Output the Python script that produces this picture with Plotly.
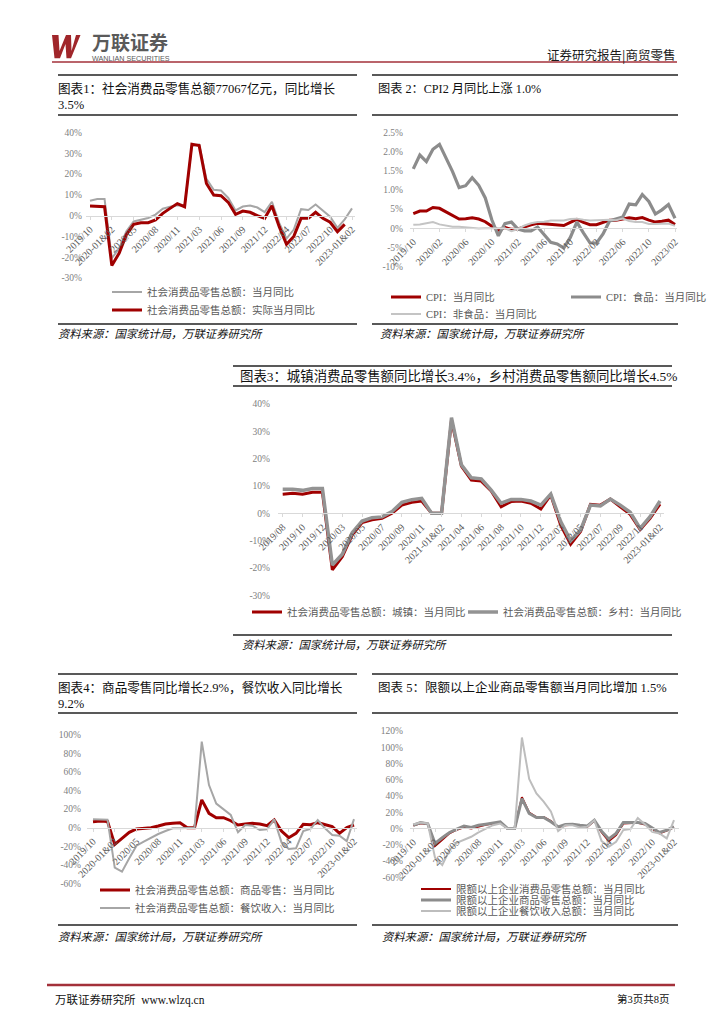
import plotly.graph_objects as go

FIG_W, FIG_H = 724, 1024

# ---------------- categories / ticks ----------------
CAT_A = ["2019/10", "2019/11", "2019/12", "2020-01&02", "2020/03", "2020/04", "2020/05", "2020/06",
         "2020/07", "2020/08", "2020/09", "2020/10", "2020/11", "2020/12", "2021-01&02", "2021/03",
         "2021/04", "2021/05", "2021/06", "2021/07", "2021/08", "2021/09", "2021/10", "2021/11",
         "2021/12", "2022-01&02", "2022/03", "2022/04", "2022/05", "2022/06", "2022/07", "2022/08",
         "2022/09", "2022/10", "2022/11", "2022/12", "2023-01&02"]
TICKS_A = ["2019/10", "2020-01&02", "2020/05", "2020/08", "2020/11", "2021/03", "2021/06",
           "2021/09", "2021/12", "2022/04", "2022/07", "2022/10", "2023-01&02"]

CAT_B = ["2019/10", "2019/11", "2019/12", "2020/01", "2020/02", "2020/03", "2020/04", "2020/05",
         "2020/06", "2020/07", "2020/08", "2020/09", "2020/10", "2020/11", "2020/12", "2021/01",
         "2021/02", "2021/03", "2021/04", "2021/05", "2021/06", "2021/07", "2021/08", "2021/09",
         "2021/10", "2021/11", "2021/12", "2022/01", "2022/02", "2022/03", "2022/04", "2022/05",
         "2022/06", "2022/07", "2022/08", "2022/09", "2022/10", "2022/11", "2022/12", "2023/01",
         "2023/02"]
TICKS_B = ["2019/10", "2020/02", "2020/06", "2020/10", "2021/02", "2021/06", "2021/10",
           "2022/02", "2022/06", "2022/10", "2023/02"]

CAT_C = ["2019/08", "2019/09", "2019/10", "2019/11", "2019/12", "2020-01&02", "2020/03", "2020/04",
         "2020/05", "2020/06", "2020/07", "2020/08", "2020/09", "2020/10", "2020/11", "2020/12",
         "2021-01&02", "2021/03", "2021/04", "2021/05", "2021/06", "2021/07", "2021/08", "2021/09",
         "2021/10", "2021/11", "2021/12", "2022-01&02", "2022/03", "2022/04", "2022/05", "2022/06",
         "2022/07", "2022/08", "2022/09", "2022/10", "2022/11", "2022/12", "2023-01&02"]
TICKS_C = ["2019/08", "2019/10", "2019/12", "2020/03", "2020/05", "2020/07", "2020/09", "2020/11",
           "2021-01&02", "2021/04", "2021/06", "2021/08", "2021/10", "2021/12", "2022/03",
           "2022/05", "2022/07", "2022/09", "2022/11", "2023-01&02"]

# ---------------- series values (%) ----------------
RS_NOMINAL = [7.2, 8.0, 8.0, -20.5, -15.8, -7.5, -2.8, -1.8, -1.1, 0.5, 3.3, 4.3, 5.0, 4.6, 33.8,
              34.2, 17.7, 12.4, 12.1, 8.5, 2.5, 4.4, 4.9, 3.9, 1.7, 6.7, -3.5, -11.1, -6.7, 3.1,
              2.7, 5.4, 2.5, -0.5, -5.9, -1.8, 3.5]
RS_REAL = [4.6, 4.6, 4.3, -24.0, -18.1, -9.1, -4.2, -3.4, -3.4, -2.1, 1.1, 3.5, 5.8, 4.3, 34.3,
           33.7, 15.5, 9.9, 9.6, 6.4, 0.6, 2.2, 1.6, 0.0, -1.3, 4.8, -5.3, -13.8, -10.0, -1.3,
           -1.3, 1.6, -1.3, -3.2, -7.7, -4.2, None]

CPI_ALL = [3.8, 4.5, 4.5, 5.4, 5.2, 4.3, 3.3, 2.4, 2.5, 2.7, 2.4, 1.7, 0.5, -0.5, 0.2, -0.3, -0.2,
           0.4, 0.9, 1.3, 1.1, 1.0, 0.8, 0.7, 1.5, 2.3, 1.5, 0.9, 0.9, 1.5, 2.1, 2.1, 2.5, 2.7,
           2.5, 2.8, 2.1, 1.6, 1.8, 2.1, 1.0]
CPI_FOOD = [15.5, 19.1, 17.4, 20.6, 21.9, 18.3, 14.8, 10.6, 11.1, 13.2, 11.2, 7.9, 2.2, -2.0, 1.2,
            1.6, -0.2, -0.7, -0.7, 0.3, -1.7, -3.7, -4.1, -5.2, -2.4, 1.6, -1.2, -3.8, -3.9, -1.5,
            1.9, 2.3, 2.9, 6.3, 6.1, 8.8, 7.0, 3.7, 4.8, 6.2, 2.6]
CPI_NONFOOD = [0.9, 1.0, 1.3, 1.6, 1.0, 0.7, 0.4, 0.4, 0.3, 0.0, -0.1, 0.0, 0.0, 0.0, 0.0, -0.8,
               -0.2, 0.7, 1.3, 1.6, 1.7, 2.0, 2.0, 2.0, 2.4, 2.5, 2.2, 2.0, 2.1, 2.2, 2.2, 2.1,
               2.5, 1.9, 1.6, 1.6, 1.1, 1.1, 1.1, 1.2, 0.6]

URBAN = [7.0, 7.3, 7.0, 7.7, 7.7, -20.7, -15.9, -7.9, -3.4, -2.4, -1.8, 0.0, 3.0, 4.0, 4.5, 0.0,
         0.0, 34.1, 17.3, 12.2, 11.8, 8.2, 2.4, 4.3, 4.5, 3.7, 1.6, 6.7, -4.3, -11.3, -6.7, 3.3,
         3.0, 5.2, 2.4, -0.4, -5.9, -1.8, 3.4]
RURAL = [8.8, 8.8, 8.4, 9.1, 9.1, -18.9, -15.0, -7.1, -2.8, -1.6, -1.3, 0.6, 4.0, 5.0, 5.5, 0.0,
         0.0, 35.0, 17.7, 13.0, 12.6, 8.5, 3.7, 5.1, 5.1, 4.5, 3.0, 7.0, -3.0, -10.0, -6.1, 3.0,
         2.7, 5.2, 3.0, 0.4, -5.5, -1.2, 4.5]

GOODS = [6.5, 7.2, 6.8, -18.0, -11.5, -5.0, -1.4, -0.7, 0.0, 1.8, 4.0, 4.7, 5.4, 0.0, 0.0, 30.0,
         15.5, 10.8, 10.8, 7.5, 2.9, 4.0, 4.7, 4.0, 2.2, 8.3, -3.6, -10.8, -6.1, 3.6, 3.2, 5.4,
         3.6, 1.1, -6.1, 0.0, 2.9]
CATERING = [9.0, 9.0, 8.6, -43.0, -47.5, -33.0, -19.4, -15.0, -10.8, -6.8, -3.6, -0.7, -0.7, 0.0,
            0.0, 92.8, 46.0, 26.0, 20.0, 13.7, -5.0, 2.9, 2.2, -2.5, -1.8, 9.0, -15.8, -23.0,
            -22.3, -3.6, -1.4, 8.3, -0.7, -7.9, -8.6, -14.4, 9.2]

Q_TOTAL = [3.5, 6.5, 5.5, -21.5, -14.0, -6.0, -1.5, 1.5, 0.0, 2.5, 4.5, 6.0, 7.5, 0.0, 0.0, 38.5,
           19.5, 14.0, 14.0, 9.0, 1.5, 4.0, 4.5, 3.5, 2.0, 9.5, -4.5, -15.5, -8.0, 6.0, 6.5, 7.0,
           5.0, 0.0, -6.0, -2.5, 1.5]
Q_GOODS = [4.0, 7.3, 5.7, -18.4, -11.4, -4.9, -0.8, 2.9, 1.2, 4.0, 5.3, 6.5, 8.2, 0.0, 0.0, 36.7,
           18.4, 13.5, 13.5, 8.2, 2.0, 4.9, 5.3, 4.0, 2.9, 10.2, -3.3, -13.0, -6.1, 7.3, 7.3, 7.3,
           6.1, 0.8, -4.9, -2.0, 2.0]
Q_CATER = [4.9, 7.3, 6.1, -36.0, -45.0, -26.5, -17.6, -14.3, -10.2, -4.9, 0.0, 4.0, 6.0, 0.0, 0.0,
           112.0, 61.0, 43.0, 33.0, 21.0, -3.3, 4.0, 4.0, 1.2, 2.0, 10.2, -15.5, -22.4, -16.3,
           -2.0, -0.8, 13.0, 4.9, -4.0, -6.1, -12.2, 10.2]

# y tick labels
Y1_VALS = [40, 30, 20, 10, 0, -10, -20, -30]
Y1_TEXT = ["40%", "30%", "20%", "10%", "0%", "-10%", "-20%", "-30%"]
Y2_VALS = [25, 20, 15, 10, 5, 0, -5, -10]
Y2_TEXT = ["2.5%", "2.0%", "1.5%", "1.0%", "5%", "0%", "-5%", "-10%"]
Y3_VALS = [40, 30, 20, 10, 0, -10, -20, -30]
Y3_TEXT = ["40%", "30%", "20%", "10%", "0%", "-10%", "-20%", "-30%"]
Y4_VALS = [100, 80, 60, 40, 20, 0, -20, -40, -60]
Y4_TEXT = ["100%", "80%", "60%", "40%", "20%", "0%", "-20%", "-40%", "-60%"]
Y5_VALS = [120, 100, 80, 60, 40, 20, 0, -20, -40, -60]
Y5_TEXT = ["120%", "100%", "80%", "60%", "40%", "20%", "0%", "-20%", "-40%", "-60%"]

# ---------------- styling ----------------
FONT = "Liberation Serif, Noto Sans CJK SC, serif"
CJK = "Noto Sans CJK SC, sans-serif"
RED = "#A00000"
GRAY = "#A6A6A6"
DGRAY = "#8C8C8C"
LGRAY = "#C4C4C4"
AXIS_GRAY = "#D9D9D9"
BRAND = "#A3303A"


def px(x):
    return x / FIG_W


def py(y):
    return 1 - y / FIG_H


fig = go.Figure()

# panel geometry (pixels)
panels = [
    dict(cats=CAT_A, ticks=TICKS_A, xa=90, xb=352, xl=86, xr=355, yt=132.5, yb=278,
         ymin=-30, ymax=40, yv=Y1_VALS, ytx=Y1_TEXT, so=3),
    dict(cats=CAT_B, ticks=TICKS_B, xa=413.3, xb=675, xl=410, xr=677, yt=132.5, yb=266.5,
         ymin=-10, ymax=25, yv=Y2_VALS, ytx=Y2_TEXT, so=6),
    dict(cats=CAT_C, ticks=TICKS_C, xa=282.7, xb=660, xl=278, xr=664, yt=404, yb=595.3,
         ymin=-30, ymax=40, yv=Y3_VALS, ytx=Y3_TEXT, so=7),
    dict(cats=CAT_A, ticks=TICKS_A, xa=93, xb=354, xl=87, xr=357, yt=735, yb=883.3,
         ymin=-60, ymax=100, yv=Y4_VALS, ytx=Y4_TEXT, so=5),
    dict(cats=CAT_A, ticks=TICKS_A, xa=413.3, xb=674, xl=410, xr=679, yt=731, yb=877.2,
         ymin=-60, ymax=120, yv=Y5_VALS, ytx=Y5_TEXT, so=6),
]

layout_axes = {}
for i, p in enumerate(panels):
    k = "" if i == 0 else str(i + 1)
    n = len(p["cats"])
    s = (p["xb"] - p["xa"]) / (n - 1)
    rng = [(p["xl"] - p["xa"]) / s, (p["xr"] - p["xa"]) / s]
    zero_y = p["yt"] + p["ymax"] / (p["ymax"] - p["ymin"]) * (p["yb"] - p["yt"])
    layout_axes["xaxis" + k] = dict(
        domain=[px(p["xl"]), px(p["xr"])], type="category",
        categoryorder="array", categoryarray=p["cats"], range=rng,
        anchor="free", position=py(zero_y),
        showline=True, linecolor=AXIS_GRAY, linewidth=1,
        ticks="outside", ticklen=3, tickcolor=AXIS_GRAY,
        tickmode="array", tickvals=p["ticks"], ticktext=p["ticks"], tickangle=-45,
        tickfont=dict(family=FONT, size=10, color="#595959"),
        showgrid=False, zeroline=False, automargin=False, fixedrange=True)
    layout_axes["yaxis" + k] = dict(
        domain=[py(p["yb"]), py(p["yt"])], range=[p["ymin"], p["ymax"]],
        anchor="x" + k, showline=False, showgrid=False, zeroline=False, ticks="",
        tickmode="array", tickvals=p["yv"], ticktext=p["ytx"],
        ticklabelstandoff=p["so"],
        tickfont=dict(family=FONT, size=9.5, color="#808080"),
        automargin=False, fixedrange=True)

# traces: (panel index, x, y, name, color, width, legend-left px, legend-y px)
series = [
    (0, CAT_A, RS_NOMINAL, "社会消费品零售总额：当月同比", GRAY, 2.0, 107, 292),
    (0, CAT_A, RS_REAL, "社会消费品零售总额：实际当月同比", RED, 3.0, 107, 310),
    (1, CAT_B, CPI_ALL, "CPI：当月同比", RED, 3.0, 386, 297),
    (1, CAT_B, CPI_FOOD, "CPI：食品：当月同比", DGRAY, 3.2, 566, 297),
    (1, CAT_B, CPI_NONFOOD, "CPI：非食品：当月同比", LGRAY, 2.0, 386, 314),
    (2, CAT_C, URBAN, "社会消费品零售总额：城镇：当月同比", RED, 3.0, 247, 612),
    (2, CAT_C, RURAL, "社会消费品零售总额：乡村：当月同比", "#939393", 3.5, 463, 612),
    (3, CAT_A, GOODS, "社会消费品零售总额：商品零售：当月同比", RED, 3.0, 95, 890),
    (3, CAT_A, CATERING, "社会消费品零售总额：餐饮收入：当月同比", GRAY, 2.0, 95, 908),
    (4, CAT_A, Q_TOTAL, "限额以上企业消费品零售总额：当月同比", RED, 2.0, 416, 889),
    (4, CAT_A, Q_GOODS, "限额以上企业商品零售总额：当月同比", DGRAY, 3.0, 416, 900),
    (4, CAT_A, Q_CATER, "限额以上企业餐饮收入总额：当月同比", "#BDBDBD", 2.0, 416, 911),
]

legends = {}
for j, (pi, xs, ys, name, color, width, lx, ly) in enumerate(series):
    k = "" if pi == 0 else str(pi + 1)
    lg = "legend" if j == 0 else "legend%d" % (j + 1)
    fig.add_trace(go.Scatter(
        x=xs, y=ys, name=name, mode="lines",
        line=dict(color=color, width=width),
        xaxis="x" + k, yaxis="y" + k, legend=lg, showlegend=True,
        hoverinfo="skip"))
    legends[lg] = dict(
        x=px(lx), y=py(ly), xanchor="left", yanchor="middle",
        bgcolor="rgba(0,0,0,0)", borderwidth=0, itemwidth=30,
        font=dict(family=FONT, size=10.5, color="#595959"))

# ---------------- decorations ----------------
shapes = []


def hline(y, x0, x1, color="#222222", width=1.5):
    shapes.append(dict(type="line", xref="paper", yref="paper",
                       x0=px(x0), x1=px(x1), y0=py(y), y1=py(y),
                       line=dict(color=color, width=width)))


# header
hline(62, 52, 677, BRAND, 1.6)
# panel rules
hline(75, 58, 357)
hline(75, 372, 678)
hline(115, 58, 357)
hline(115, 372, 678)
hline(324, 58, 357)
hline(324, 372, 678)
hline(366, 233, 672)
hline(386, 233, 672)
hline(635, 233, 672)
hline(674, 58, 357)
hline(674, 372, 678)
hline(713, 58, 357)
hline(713, 372, 678)
hline(925, 58, 357)
hline(925, 372, 678)
# footer
hline(985, 47, 675, BRAND, 2.5)

# logo "W"
W_PTS = [(52, 35), (58.5, 35), (59.5, 51), (66, 35), (71, 35), (71.5, 51), (76, 35), (80.5, 35),
         (71, 58.3), (66.5, 58.3), (65.5, 44), (60, 58.3), (54.5, 58.3)]
path = "M " + " L ".join("%.5f,%.5f" % (px(a), py(b)) for a, b in W_PTS) + " Z"
shapes.append(dict(type="path", xref="paper", yref="paper", path=path,
                   fillcolor="#A0262A", line=dict(width=0)))

annotations = []


def text(x, y, s, size=12.6, color="#111111", anchor="left", family=FONT):
    annotations.append(dict(x=px(x), y=py(y), xref="paper", yref="paper", text=s,
                            showarrow=False, xanchor=anchor, yanchor="middle",
                            align=anchor, font=dict(family=family, size=size, color=color)))


text(90, 41.5, "<b>万联证券</b>", 19, "#5A5A5A", family=CJK)
text(90, 58.8, "WANLIAN SECURITIES", 7.2, "#5A5A5A", family="Liberation Sans, Arial, sans-serif")
text(677, 54, "证券研究报告|商贸零售", 12.5, "#1A1A1A", anchor="right", family=CJK)

text(56, 88, "图表1：社会消费品零售总额77067亿元，同比增长", 12.6)
text(56, 105, "3.5%", 12.6)
text(376, 88, "图表 2：CPI2 月同比上涨 1.0%", 12.2)
text(238, 376, "图表3：城镇消费品零售额同比增长3.4%，乡村消费品零售额同比增长4.5%", 13.4)
text(56, 687, "图表4：商品零售同比增长2.9%，餐饮收入同比增长", 12.6)
text(56, 704, "9.2%", 12.6)
text(376, 687, "图表 5：限额以上企业商品零售额当月同比增加 1.5%", 12.5)

SRC = "<i>资料来源：国家统计局，万联证券研究所</i>"
text(56, 334, SRC, 11.3)
text(378, 334, SRC, 11.3)
text(240, 645, SRC, 11.3)
text(56, 937, SRC, 11.3)
text(380, 937, SRC, 11.3)

text(53, 999.5, "万联证券研究所  www.wlzq.cn", 11.5, "#111111")
text(672, 999, "第3页共8页", 10.5, "#111111", anchor="right")

fig.update_layout(
    width=FIG_W, height=FIG_H,
    margin=dict(l=0, r=0, t=0, b=0),
    paper_bgcolor="white", plot_bgcolor="rgba(0,0,0,0)",
    template="none", showlegend=True,
    shapes=shapes, annotations=annotations,
    **layout_axes, **legends)

fig.write_html("out.html", config={"displayModeBar": False},
               post_script="document.body.style.margin='0px';document.body.style.overflow='hidden';")
